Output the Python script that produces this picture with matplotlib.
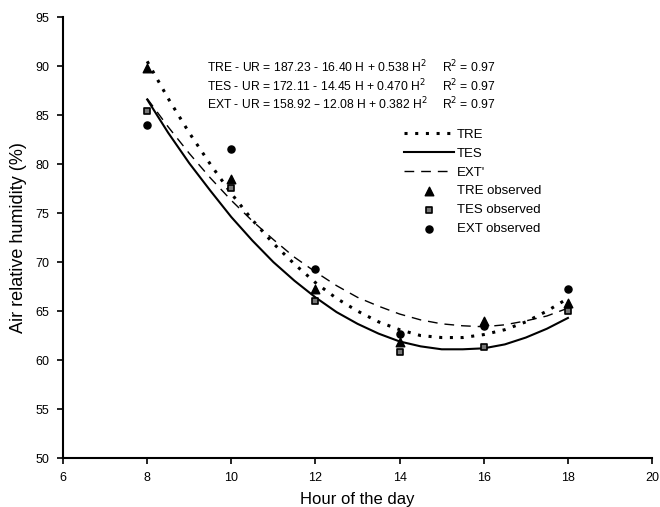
import matplotlib
matplotlib.use("Agg")
import matplotlib.pyplot as plt

plt.rcParams['font.family'] = ['Liberation Sans', 'DejaVu Sans']

hours_obs = [8, 10, 12, 14, 16, 18]
tre_obs = [89.8, 78.5, 67.3, 61.8, 64.0, 65.8]
tes_obs = [85.4, 77.6, 66.0, 60.8, 61.3, 65.0]
ext_obs = [84.0, 81.5, 69.3, 62.7, 63.5, 67.3]

hours_fit = [8, 8.5, 9, 9.5, 10, 10.5, 11, 11.5, 12, 12.5, 13, 13.5,
             14, 14.5, 15, 15.5, 16, 16.5, 17, 17.5, 18]
tre_fit = [90.5, 86.7, 83.2, 80.0, 77.0, 74.3, 71.9, 69.8, 67.9, 66.3, 65.0, 63.9,
           63.1, 62.5, 62.3, 62.3, 62.6, 63.1, 63.9, 65.0, 66.3]
tes_fit = [86.6, 83.2, 80.1, 77.3, 74.6, 72.2, 70.0, 68.1, 66.4, 64.9, 63.7, 62.7,
           61.9, 61.4, 61.1, 61.1, 61.2, 61.6, 62.3, 63.2, 64.3]
ext_fit = [86.7, 83.8, 81.1, 78.6, 76.3, 74.2, 72.3, 70.5, 69.0, 67.6, 66.4, 65.5,
           64.7, 64.1, 63.7, 63.5, 63.4, 63.6, 64.0, 64.5, 65.3]

equations = [
    ("TRE - UR = 187.23 - 16.40 H + 0.538 H$^{2}$", "R$^{2}$ = 0.97"),
    ("TES - UR = 172.11 - 14.45 H + 0.470 H$^{2}$", "R$^{2}$ = 0.97"),
    ("EXT - UR = 158.92 \u2013 12.08 H + 0.382 H$^{2}$", "R$^{2}$ = 0.97"),
]

xticks = [6, 8, 10, 12, 14, 16, 18, 20]
yticks = [50, 55, 60, 65, 70, 75, 80, 85, 90, 95]

fig = plt.figure(figsize=(6.6, 5.07), dpi=100)
ax = fig.add_axes([0.0955, 0.0966, 0.8925, 0.8694])

l_tre, = ax.plot(hours_fit, tre_fit, color='black', linestyle=(0, (1, 2.5)), linewidth=2.2, label='TRE')
l_tes, = ax.plot(hours_fit, tes_fit, color='black', linestyle='-', linewidth=1.5, label='TES')
l_ext, = ax.plot(hours_fit, ext_fit, color='black', linestyle=(0, (7, 5)), linewidth=1.0, label="EXT'")

m_tre = ax.scatter(hours_obs, tre_obs, marker='^', s=38, color='black', zorder=3, label='TRE observed')
m_tes = ax.scatter(hours_obs, tes_obs, marker='s', s=22, facecolor='#777777', edgecolor='black', linewidths=1.2, zorder=3, label='TES observed')
m_ext = ax.scatter(hours_obs, ext_obs, marker='o', s=26, color='black', zorder=3, label='EXT observed')

ax.set_xlim(6, 20)
ax.set_ylim(50, 95)
ax.set_xticks(xticks)
ax.set_yticks(yticks)
ax.tick_params(axis='both', direction='out', length=4, width=1.2, labelsize=9, pad=6)
for s in ['top', 'right']:
    ax.spines[s].set_visible(False)
for s in ['left', 'bottom']:
    ax.spines[s].set_linewidth(1.5)

ax.set_xlabel('Hour of the day', fontsize=12, labelpad=6)
ax.set_ylabel('Air relative humidity (%)', fontsize=13, labelpad=6)

for i, (eq, r2) in enumerate(equations):
    y = 0.886 - i * 0.041
    ax.text(0.245, y, eq, transform=ax.transAxes, fontsize=8.7, va='center')
    ax.text(0.643, y, r2, transform=ax.transAxes, fontsize=8.7, va='center')

leg = ax.legend(handles=[l_tre, l_tes, l_ext, m_tre, m_tes, m_ext],
                loc='upper left', bbox_to_anchor=(0.578, 0.747), frameon=False,
                fontsize=9.5, handlelength=3.8, handletextpad=0.25,
                labelspacing=0.5, borderaxespad=0, borderpad=0, scatterpoints=1)

fig.savefig('out.png', dpi=100)
